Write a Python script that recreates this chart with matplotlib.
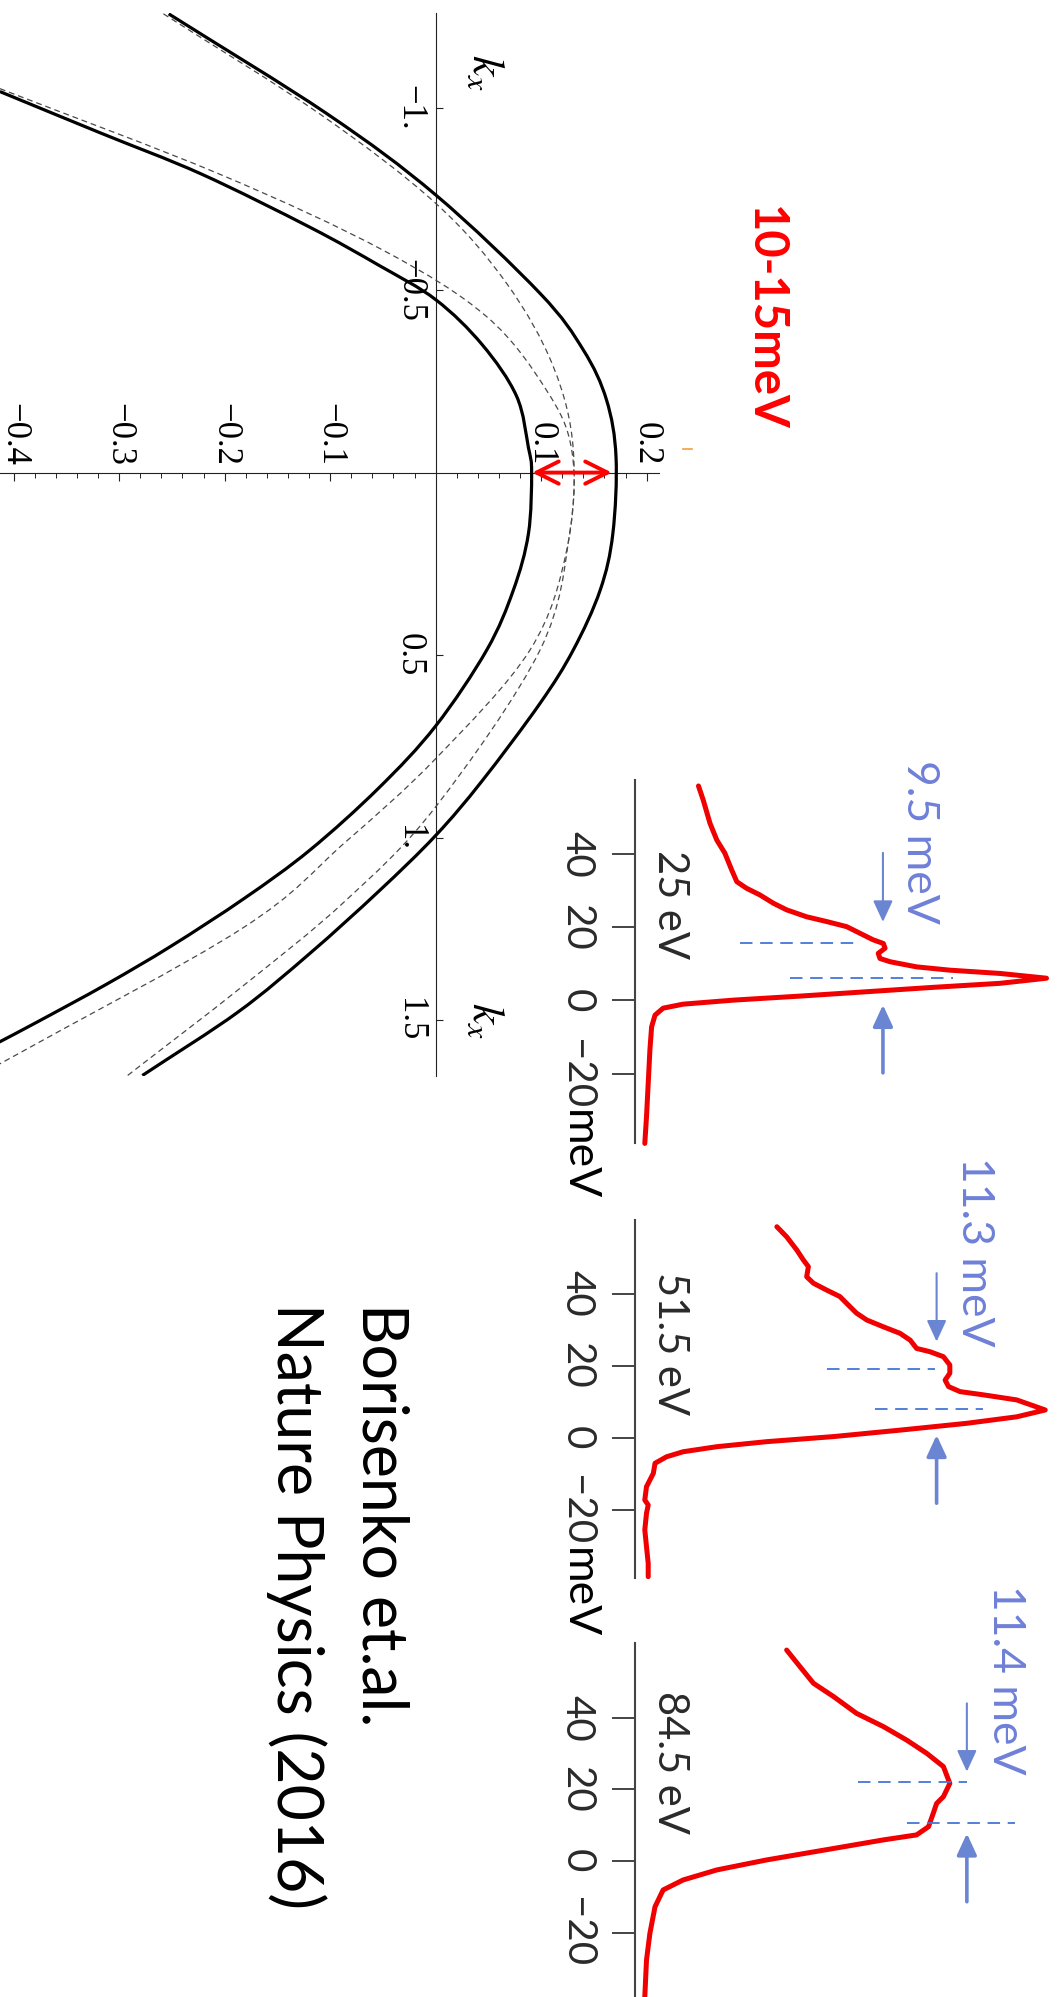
import numpy as np
import matplotlib
matplotlib.use("Agg")
import matplotlib.pyplot as plt
from matplotlib.lines import Line2D
from matplotlib.path import Path
from matplotlib.patches import PathPatch

plt.rcParams['lines.scale_dashes'] = False
plt.rcParams['mathtext.fontset'] = 'stix'
plt.rcParams['font.family'] = ['Liberation Serif', 'DejaVu Serif']

SANS = ['Lato', 'DejaVu Sans']

# ---------------- band dispersion: (k_x, E) pairs ----------------
outer_k = [-1.257, -0.983, -0.761, -0.491, -0.336, -0.199, -0.043, 0.167, 0.322,
           0.486, 0.633, 0.845, 0.9945, 1.147, 1.317, 1.4775, 1.652]
outer_E = [-0.253, -0.1029, 0.0, 0.099, 0.140, 0.162, 0.171, 0.168, 0.156,
           0.1305, 0.0988, 0.044, 0.0, -0.0538, -0.119, -0.187, -0.278]

inner_k = [-1.044, -0.931, -0.818, -0.672, -0.568, -0.474, -0.351, -0.2096, -0.068,
           0.0, 0.167, 0.322, 0.486, 0.6945, 0.864, 1.034, 1.166, 1.298, 1.402,
           1.506, 1.5625]
inner_E = [-0.413, -0.318, -0.222, -0.119, -0.0538, 0.0, 0.044, 0.0767, 0.088,
           0.091, 0.088, 0.0737, 0.0485, 0.0, -0.0538, -0.119, -0.181, -0.251, -0.312,
           -0.378, -0.415]

dash1_k = [-1.257, -0.983, -0.738, -0.518, -0.290, -0.062, 0.212, 0.486, 0.784,
           1.015, 1.251, 1.620]
dash1_E = [-0.258, -0.110, 0.0, 0.0674, 0.1116, 0.1305, 0.1243, 0.0895, 0.0,
           -0.0865, -0.1845, -0.413]

dash2_k = [-1.052, -0.818, -0.609, -0.427, -0.226, -0.062, 0.167, 0.486, 0.916,
           1.176, 1.411, 1.652]
dash2_E = [-0.413, -0.205, -0.0496, 0.0485, 0.105, 0.129, 0.127, 0.099, 0.0,
           -0.0865, -0.1845, -0.292]

energy_ticks = [-0.4, -0.3, -0.2, -0.1, 0.1, 0.2]
energy_labels = ['\u22120.4', '\u22120.3', '\u22120.2', '\u22120.1', '0.1', '0.2']
k_ticks = [-1.0, -0.5, 0.5, 1.0, 1.5]
k_labels = ['\u22121.', '\u22120.5', '0.5', '1.', '1.5']

# ---------------- EDC spectra: binding energy (meV) and intensity ----------------
photon_labels = ['25 eV', '51.5 eV', '84.5 eV']
gaps_meV = [9.5, 11.3, 11.4]

edc1_E = [58.7, 54.9, 48.5, 43.9, 40.3, 35.7, 32.5, 30.7, 28.9, 26.6, 24.8, 22.9, 21.6,
          20.2, 18.4, 16.6, 15.6, 14.3, 12.9, 11.5, 10.6, 9.2, 8.3, 7.4, 6.1, 4.7, 3.6,
          2.4, 1.2, 0.1, -1.0, -2.1, -4.0, -7.2, -13.5, -22.7, -31.8, -39.1]
edc1_I = [14.9, 16.0, 17.6, 19.2, 21.1, 22.7, 23.9, 26.2, 29.3, 32.5, 35.6, 40.3, 45.0,
          49.7, 52.8, 55.9, 58.3, 58.7, 57.1, 57.5, 59.9, 66.1, 73.9, 85.7, 96.6, 85.7,
          70.0, 54.4, 38.7, 23.1, 11.3, 6.6, 4.7, 3.9, 3.5, 3.1, 2.7, 2.3]

edc2_E = [58.6, 55.8, 52.1, 49.4, 47.5, 44.7, 42.9, 41.0, 39.2, 37.3, 34.6, 32.7, 30.8,
          29.0, 27.1, 24.8, 23.9, 22.5, 20.2, 17.9, 16.0, 14.2, 12.8, 11.9, 10.5, 7.7,
          5.8, 4.0, 2.1, 0.3, -1.1, -2.5, -3.9, -5.3, -7.1, -9.9, -13.6, -17.3, -18.7,
          -21.0, -25.6, -30.3, -34.9, -38.6]
edc2_I = [33.3, 35.6, 38.0, 39.5, 40.7, 40.3, 41.9, 45.0, 48.1, 49.7, 52.0, 54.4, 58.3,
          62.2, 64.6, 66.1, 69.2, 72.4, 73.9, 73.9, 72.8, 73.6, 76.3, 81.8, 89.6, 96.3,
          89.6, 77.9, 62.2, 46.5, 30.9, 19.2, 11.3, 7.4, 4.7, 4.3, 2.7, 2.3, 3.1,
          2.7, 2.3, 2.7, 3.1, 3.1]

edc3_E = [59.0, 54.4, 49.7, 46.0, 41.3, 37.6, 33.8, 30.1, 26.4, 21.7, 18.0, 16.1, 13.3,
          9.6, 7.3, 5.9, 3.5, 0.3, -2.5, -5.3, -8.1, -12.8, -20.2, -27.7, -38.0]
edc3_I = [35.6, 38.7, 41.9, 46.6, 52.0, 58.3, 63.8, 68.5, 72.4, 73.9, 72.4, 70.8, 70.0,
          68.9, 66.1, 58.3, 46.6, 30.9, 19.2, 11.3, 6.6, 4.7, 3.5, 2.7, 2.3]

edc_E = [edc1_E, edc2_E, edc3_E]
edc_I = [edc1_I, edc2_I, edc3_I]

# lower marker line (meV) and horizontal extent of both marker lines
marker_lower = [6.1, 7.9, 10.7]
marker_lower_span = [(36.4, 74.7), (56.3, 81.8), (63.8, 89.2)]
marker_upper_span = [(24.6, 52.3), (45.0, 70.4), (52.4, 77.9)]
arrow_I = [58.2, 70.8, 77.9]
arrow_down = [(40.4, 21.5), (45.7, 26.7), (44.1, 25.0)]
arrow_up = [(-19.8, -1.2), (-18.2, 0.75), (-11.4, 7.7)]
edc_ticks = [40, 20, 0, -20]
edc_tick_labels = ['40', '20', '0', '\u221220']

# ---------------- figure ----------------
W, H, DPI = 1061, 1997, 100
fig = plt.figure(figsize=(W / DPI, H / DPI), dpi=DPI)
fig.patch.set_facecolor('white')


def px_axes(x0, y0, x1, y1):
    ax = fig.add_axes([x0 / W, 1 - y1 / H, (x1 - x0) / W, (y1 - y0) / H])
    ax.patch.set_visible(False)
    return ax


def vtext(x, y, s, ha='center', **kw):
    """Text reading top-to-bottom; (x, y) in pixels: baseline x, anchor y."""
    return fig.text(x / W, 1 - y / H, s, rotation=-90, rotation_mode='anchor',
                    ha=ha, va='baseline', **kw)


def smooth_curve(ax, xs, ys, **kw):
    """Draw a smooth (Catmull-Rom Bezier) curve through the given points."""
    p = np.column_stack([xs, ys]).astype(float)
    ext = np.vstack([2 * p[0] - p[1], p, 2 * p[-1] - p[-2]])
    verts = [tuple(p[0])]
    codes = [Path.MOVETO]
    for i in range(1, len(ext) - 2):
        p0, p1, p2, p3 = ext[i - 1], ext[i], ext[i + 1], ext[i + 2]
        c1 = p1 + (p2 - p0) / 6.0
        c2 = p2 - (p3 - p1) / 6.0
        verts += [tuple(c1), tuple(c2), tuple(p2)]
        codes += [Path.CURVE4] * 3
    patch = PathPatch(Path(verts, codes), fill=False, **kw)
    ax.add_patch(patch)
    return patch


# ---------------- dispersion panel ----------------
ax = px_axes(0, 13.1, 700, 1075.5)
ax.set_xlim(-0.4129, 0.2506)
ax.set_ylim(1.652, -1.259)
ax.set_axisbelow(True)

smooth_curve(ax, dash1_E, dash1_k, edgecolor='#4a4a4a', lw=0.9,
             linestyle=(0, (4.2, 2.8)), zorder=3)
smooth_curve(ax, dash2_E, dash2_k, edgecolor='#4a4a4a', lw=0.9,
             linestyle=(0, (4.2, 2.8)), zorder=3)
smooth_curve(ax, outer_E, outer_k, edgecolor='black', lw=2.3, zorder=3)
smooth_curve(ax, inner_E, inner_k, edgecolor='black', lw=2.3, zorder=3)

for side in ('right', 'bottom'):
    ax.spines[side].set_visible(False)
ax.spines['left'].set_position(('data', 0))
ax.spines['top'].set_position(('data', 0))
ax.spines['top'].set_bounds(-0.413, 0.212)
for side in ('left', 'top'):
    ax.spines[side].set_linewidth(0.8)
    ax.spines[side].set_color('#222222')

ax.xaxis.set_ticks_position('top')
ax.set_xticks(energy_ticks, labels=energy_labels)
minor_E = [round(v, 2) for v in np.arange(-0.40, 0.2001, 0.02)]
ax.set_xticks([v for v in minor_E if round(v * 10, 6) != round(v * 10)], minor=True)
ax.tick_params(axis='x', which='major', direction='in', length=6, width=0.8, pad=5,
               labelsize=25, labelrotation=-90, top=True, bottom=False,
               labeltop=True, labelbottom=False, colors='#222222', labelcolor='black')
ax.tick_params(axis='x', which='minor', direction='in', length=3.5, width=0.7,
               top=True, bottom=False, colors='#222222')
for lab in ax.get_xticklabels():
    lab.set_ha('center')
    lab.set_va('bottom')

ax.yaxis.set_ticks_position('left')
ax.set_yticks(k_ticks, labels=k_labels)
ax.tick_params(axis='y', which='major', direction='in', length=5, width=0.8, pad=7,
               labelsize=25, labelrotation=-90, colors='#222222', labelcolor='black')
for lab in ax.get_yticklabels():
    lab.set_ha('right')
    lab.set_va('center')

ax.annotate('', xy=(inner_E[9] + 0.0005, 0), xytext=(outer_E[6] - 0.004, 0),
            arrowprops=dict(arrowstyle='<->,head_length=1.6,head_width=0.8',
                            color='#ff0000', lw=2.8, shrinkA=0, shrinkB=0),
            zorder=5)

vtext(473, 72, r'$k_x$', fontsize=33)
vtext(473, 1020, r'$k_x$', fontsize=33)

fig.add_artist(Line2D([683 / W, 692 / W], [1 - 449 / H, 1 - 449 / H],
                      color='#f0a040', lw=1.2))

vtext(751, 318, '10-15meV', family=SANS, fontsize=34, fontweight='bold', color='#ff0000')

# ---------------- EDC panels ----------------
panel_px = [(780, 1143), (1220, 1578), (1642.7, 1997)]
panel_lims = [(-38.99, 60.33), (-38.97, 60.47), (-38.04, 61.06)]
label_y = [904, 1343, 1762]
gap_text_pos = [(907, 842), (962, 1252), (993, 1680)]

blue_line = '#4575d9'
blue_arrow = '#6a86d2'
blue_text = '#6f80d8'

for i in range(3):
    y0, y1 = panel_px[i]
    a = px_axes(635, y0, 1061, y1)
    a.set_xlim(0, 100)
    a.set_ylim(*panel_lims[i])
    for side in ('right', 'top', 'bottom'):
        a.spines[side].set_visible(False)
    a.spines['left'].set_linewidth(1.5)
    a.spines['left'].set_color('#444444')
    a.set_xticks([])
    a.set_yticks(edc_ticks, labels=edc_tick_labels)
    a.tick_params(axis='y', direction='out', length=16.5, width=1.4, colors='#444444',
                  labelcolor='#2a2a2a', labelsize=29, labelrotation=-90, pad=12)
    for lab in a.get_yticklabels():
        lab.set_fontfamily(SANS)
        lab.set_ha('right')
        lab.set_va('center')

    a.plot(edc_I[i], edc_E[i], color='#f00000', lw=3.6, solid_joinstyle='round',
           solid_capstyle='round', zorder=3, clip_on=False)

    lo = marker_lower[i]
    hi = lo + gaps_meV[i]
    a.plot(marker_lower_span[i], [lo, lo], color=blue_line, lw=1.3, dashes=(9, 5.5),
           zorder=4)
    a.plot(marker_upper_span[i], [hi, hi], color=blue_line, lw=1.3, dashes=(9, 5.5),
           zorder=4)

    xa = arrow_I[i]
    a.annotate('', xy=(xa, arrow_down[i][1]), xytext=(xa, arrow_down[i][0]),
               arrowprops=dict(arrowstyle='-|>,head_length=1.3,head_width=0.6',
                               color=blue_arrow, lw=1.5, shrinkA=0, shrinkB=0))
    a.annotate('', xy=(xa, arrow_up[i][1]), xytext=(xa, arrow_up[i][0]),
               arrowprops=dict(arrowstyle='-|>,head_length=1.3,head_width=0.6',
                               color=blue_arrow, lw=2.6, shrinkA=0, shrinkB=0))

    vtext(658, label_y[i], photon_labels[i], family=SANS, fontsize=30, color='#2a2a2a')
    gx, gy = gap_text_pos[i]
    vtext(gx, gy, f'{gaps_meV[i]} meV', family=SANS, fontsize=32, color=blue_text)

vtext(566, 1110, 'meV', ha='left', family=SANS, fontsize=32, color='black')
vtext(566, 1548, 'meV', ha='left', family=SANS, fontsize=32, color='black')

# ---------------- citation ----------------
vtext(362, 1303, 'Borisenko et.al.', ha='left', family=SANS, fontsize=45, color='black')
vtext(277, 1303, 'Nature Physics (2016)', ha='left', family=SANS, fontsize=45,
      color='black')

fig.savefig('out.png', dpi=DPI, facecolor='white')
